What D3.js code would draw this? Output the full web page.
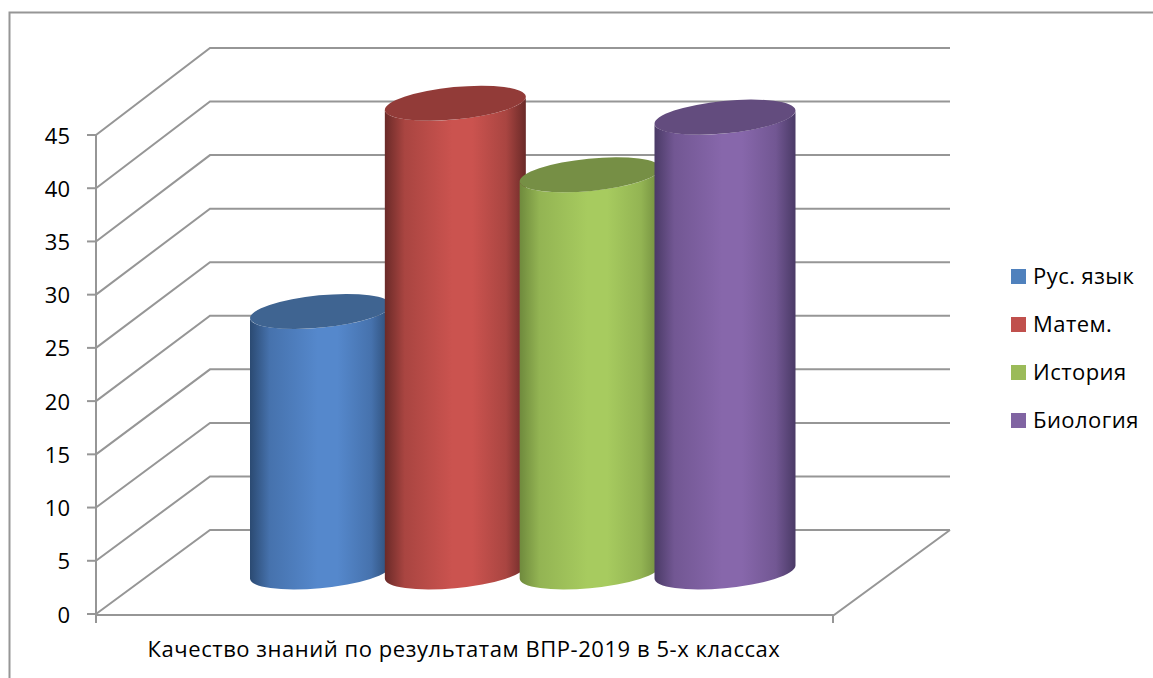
<!DOCTYPE html>
<html><head><meta charset="utf-8">
<script src="https://cdn.jsdelivr.net/npm/d3@7"></script>
<style>html,body{margin:0;padding:0;background:#fff}svg{display:block}text{font-family:"Open Sans",sans-serif;fill:#000}</style>
</head><body><svg id="c" width="1153" height="678"></svg>
<script>
const categories = ["Рус. язык","Матем.","История","Биология"];
const values = [24.4,43.9,37.2,42.6];
const ticks = [0,5,10,15,20,25,30,35,40,45];
const xLabel = "Качество знаний по результатам ВПР-2019 в 5-х классах";
const bodyEdge = ["#2b4a72","#6a2a28","#6f8a3d","#4a3a66"];
const bodyLight = ["#5588cc","#cb534f","#a7cb5f","#8767ab"];
const topFill = ["#3f6491","#923b38","#768f45","#634c7e"];
const legendFill = ["#4f81bd","#c0504d","#9bbb59","#8064a2"];

const svg = d3.select("#c");
const yFront = d3.scaleLinear().domain([0,45]).range([614,135]);
const yBack = d3.scaleLinear().domain([0,45]).range([530,48]);
const yMid = d3.scaleLinear().domain([0,45]).range([572,91.5]);
const xC = d3.scalePoint().domain(categories).range([320.5,725]);
const gray = "#969696";

svg.append("path").attr("d","M9.5,678V12.5H1153").attr("fill","none").attr("stroke","#969696").attr("stroke-width",2);

const defs = svg.append("defs");
categories.forEach((c,i)=>{
  const g = defs.append("linearGradient").attr("id","g"+i);
  [[0,bodyEdge[i]],[.14,d3.interpolateRgb(bodyEdge[i],bodyLight[i])(.65)],[.48,bodyLight[i]],[.62,bodyLight[i]],[.86,d3.interpolateRgb(bodyEdge[i],bodyLight[i])(.65)],[1,bodyEdge[i]]]
   .forEach(s=>g.append("stop").attr("offset",s[0]).attr("stop-color",s[1]));
});

const backL=210, backR=950, frontL=96, frontR=834;
const grid = svg.append("g").attr("fill","none").attr("stroke",gray).attr("stroke-width",2);
ticks.forEach(t=>{
  grid.append("path").attr("d",`M${frontL},${yFront(t)}L${backL},${yBack(t)}H${backR}`);
  grid.append("line").attr("x1",frontL-9).attr("x2",frontL).attr("y1",yFront(t)).attr("y2",yFront(t));
});
grid.append("path").attr("d",`M${frontL},${yFront(45)}V${yFront(0)+9}`);
grid.append("path").attr("d",`M${frontL},${yFront(0)+1}H${frontR}L${backR},${yBack(0)}`);
grid.append("line").attr("x1",frontR-1).attr("x2",frontR-1).attr("y1",yFront(0)+1).attr("y2",yFront(0)+9);

svg.append("g").selectAll("text").data(ticks).join("text")
  .attr("x",70).attr("y",d=>yFront(d)+8.5).attr("text-anchor","end").attr("font-size",22).text(d=>d);

const rx=70.8, ry=16.2, rot=-5.6, hw=70.5, dy=6.5;
const bars = svg.append("g");
categories.forEach((c,i)=>{
  const cx=xC(c), yb=yMid(0), yt=yMid(values[i]);
  bars.append("path").attr("fill",`url(#g${i})`)
    .attr("d",`M${cx-hw},${yt+dy}L${cx-hw},${yb+dy}A${rx},${ry} ${rot} 0 0 ${cx+hw},${yb-dy}L${cx+hw},${yt-dy}A${rx},${ry} ${rot} 0 1 ${cx-hw},${yt+dy}Z`);
  bars.append("ellipse").attr("cx",cx).attr("cy",yt).attr("rx",rx).attr("ry",ry)
    .attr("transform",`rotate(${rot} ${cx} ${yt})`).attr("fill",topFill[i]);
});

svg.append("text").attr("x",464).attr("y",657).attr("text-anchor","middle").attr("font-size",22).attr("letter-spacing",0.55).text(xLabel);

const ly = d3.scalePoint().domain(categories).range([269,413]);
categories.forEach((c,i)=>{
  svg.append("rect").attr("x",1011).attr("y",ly(c)).attr("width",15).attr("height",15).attr("fill",legendFill[i]);
  svg.append("text").attr("x",1033).attr("y",ly(c)+14.5).attr("font-size",22).attr("letter-spacing",0.45).text(c);
});
</script></body></html>
